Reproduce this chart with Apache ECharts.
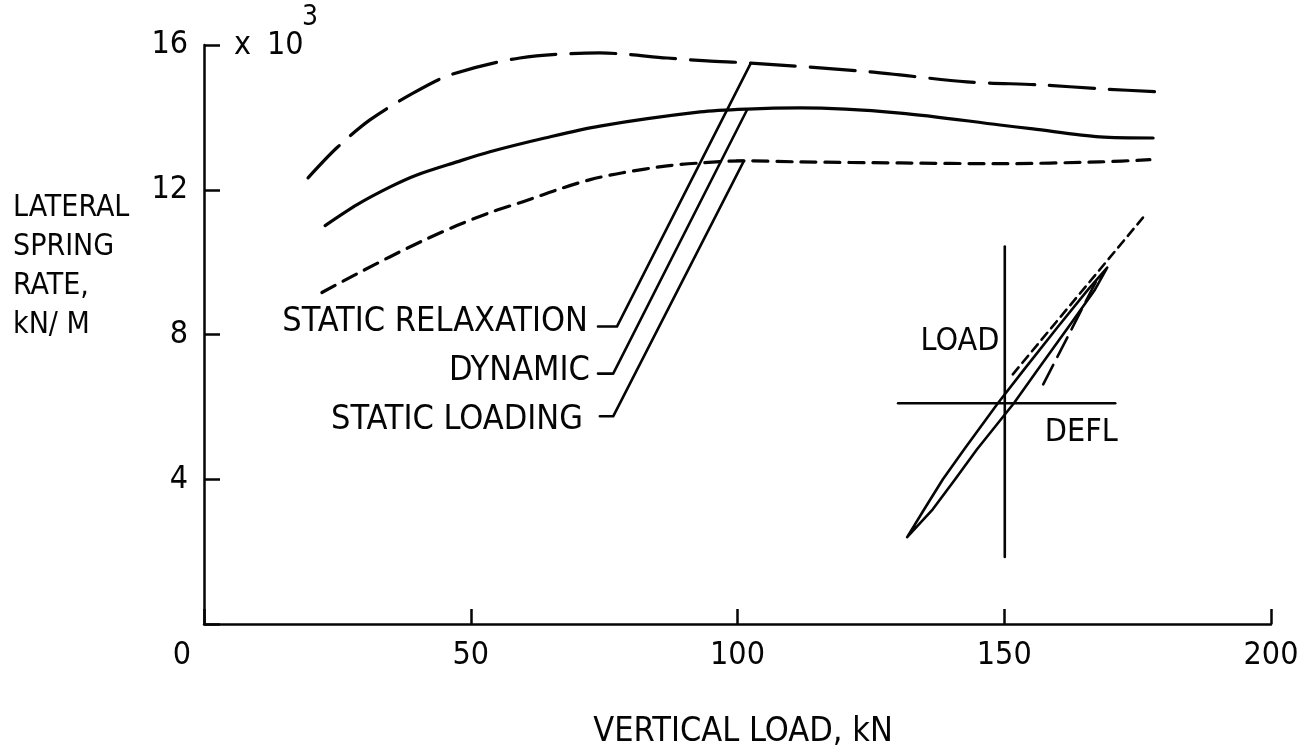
<!DOCTYPE html>
<html>
<head>
<meta charset="utf-8">
<script src="https://cdn.jsdelivr.net/npm/echarts@6/dist/echarts.min.js"></script>
<style>
html,body{margin:0;padding:0;background:#fff;}
#chart{width:1309px;height:754px;}
</style>
</head>
<body>
<div id="chart"></div>
<script>
// ---- data (x: vertical load kN, y: lateral spring rate x10^3 kN/m) ----
const staticRelaxation = [[19.5,12.33],[24.9,13.16],[31.1,13.93],[38.6,14.62],[46.1,15.17],[59.2,15.64],[74.2,15.78],[86.8,15.64],[94.3,15.56],[102.5,15.50],[124.8,15.26],[143.0,14.98],[156.7,14.90],[167.9,14.79],[179.8,14.70]];
const dynamic = [[22.7,11.01],[28.7,11.59],[34.9,12.08],[39.9,12.41],[47.4,12.77],[53.6,13.05],[63.9,13.43],[74.2,13.76],[93.0,14.15],[101.8,14.23],[111.7,14.26],[130.5,14.12],[149.2,13.79],[155.4,13.68],[167.9,13.46],[177.9,13.43]];
const staticLoading = [[22.1,9.16],[28.7,9.68],[34.9,10.15],[41.0,10.59],[47.4,11.01],[53.6,11.37],[59.8,11.67],[66.2,12.00],[72.4,12.28],[78.5,12.47],[86.8,12.66],[93.0,12.74],[101.2,12.80],[111.7,12.77],[130.5,12.74],[149.2,12.72],[167.9,12.77],[177.3,12.83]];

// leader lines from the labels to the curves
const leaderRelaxation = [[73.85,8.22],[77.4,8.22],[102.5,15.50]];
const leaderDynamic = [[73.85,6.92],[76.7,6.92],[101.8,14.21]];
const leaderLoading = [[74.2,5.74],[76.7,5.74],[101.2,12.80],[99.9,12.80]];

// curve labels
const curveLabels = ['STATIC RELAXATION','DYNAMIC','STATIC LOADING'];
const curveLabelAnchors = [[72.35,8.33],[72.7,6.98],[71.4,5.63]];

// inset sketch (load-deflection loop)
const insetVertical = [[150.1,10.43],[150.1,1.85]];
const insetHorizontal = [[130.1,6.10],[170.8,6.10]];
const insetLoop = [[131.8,2.40],[135.0,3.17],[138.5,4.00],[142.5,4.83],[148.8,6.10],[153.7,7.03],[160.1,8.22],[165.7,9.24],[169.3,9.85],[167.0,9.24],[162.1,8.22],[156.3,7.03],[151.8,6.10],[144.9,4.83],[140.8,4.00],[136.6,3.17],[131.8,2.40]];
const insetShortDash = [[151.6,6.90],[176.0,11.23]];
const insetLongDash = [[157.3,6.62],[167.4,9.52]];
const insetLabels = ['LOAD','DEFL'];
const insetLabelAnchors = [[134.3,7.81],[157.6,5.30]];

const xTicks = {min:0, max:200, interval:50};
const yTicks = {min:0, max:16, interval:4};

const NARROW = "'Liberation Sans Narrow','DejaVu Sans Condensed',sans-serif";
const COND = "'DejaVu Sans Condensed','DejaVu Sans',sans-serif";
const INK = '#050505';

const chart = echarts.init(document.getElementById('chart'), null, {renderer:'canvas'});

function lineSeries(data, type, width, smooth){
  return {
    type:'line', data:data, silent:true, symbol:'none', smooth:smooth,
    lineStyle:{color:INK, width:width, type:type, cap:'round', join:'round'},
    z:3
  };
}

const option = {
  backgroundColor:'#fff',
  animation:false,
  title:[
    {text:'LATERAL\nSPRING\nRATE,\nkN/ M', left:13, top:189, padding:0,
     textStyle:{fontFamily:COND, fontSize:30, fontWeight:'normal', color:INK, lineHeight:39}},
    {text:'{a|x}{b|10}', left:234, top:30, padding:0,
     textStyle:{fontWeight:'normal', rich:{
       a:{fontFamily:NARROW, fontSize:32, fontWeight:'normal', color:INK},
       b:{fontFamily:NARROW, fontSize:32, fontWeight:'normal', color:INK, padding:[0,0,0,16]}
     }}},
    {text:'3', left:302, top:4, padding:0,
     textStyle:{fontFamily:NARROW, fontSize:28, fontWeight:'normal', color:INK}}
  ],
  grid:{left:204, right:38, top:45, bottom:129, containLabel:false},
  xAxis:{
    type:'value', min:xTicks.min, max:xTicks.max, interval:xTicks.interval,
    name:'VERTICAL LOAD, kN', nameLocation:'middle', nameGap:91,
    nameTextStyle:{fontFamily:COND, fontSize:34, color:INK, padding:[0,0,0,11]},
    axisLine:{show:true, onZero:false, lineStyle:{color:INK, width:2.5}},
    axisTick:{show:true, inside:true, length:15, lineStyle:{color:INK, width:2.5}},
    splitLine:{show:false},
    axisLabel:{
      margin:16, fontFamily:NARROW, fontSize:32, color:INK,
      formatter:function(v){ return v===0 ? '{z|0}' : String(v); },
      rich:{z:{fontFamily:NARROW, fontSize:32, color:INK, padding:[0,44,0,0]}}
    }
  },
  yAxis:{
    type:'value', min:yTicks.min, max:yTicks.max, interval:yTicks.interval,
    axisLine:{show:true, onZero:false, lineStyle:{color:INK, width:2.5}},
    axisTick:{show:true, inside:true, length:16, lineStyle:{color:INK, width:2.5}},
    splitLine:{show:false},
    axisLabel:{
      margin:16, fontFamily:NARROW, fontSize:32, color:INK,
      formatter:function(v){ return v===0 ? '' : String(v); }
    }
  },
  series:[
    lineSeries(staticRelaxation, [45,15], 3.2, 0.3),
    lineSeries(dynamic, 'solid', 3.2, 0.3),
    lineSeries(staticLoading, [15,9], 3.2, 0.3),
    lineSeries(leaderRelaxation, 'solid', 2.6, false),
    lineSeries(leaderDynamic, 'solid', 2.6, false),
    lineSeries(leaderLoading, 'solid', 2.6, false),
    lineSeries(insetVertical, 'solid', 2.6, false),
    lineSeries(insetHorizontal, 'solid', 2.6, false),
    lineSeries(insetLoop, 'solid', 2.6, false),
    lineSeries(insetShortDash, [9,6], 2.6, false),
    lineSeries(insetLongDash, [22,9], 2.6, false),
    {
      type:'scatter', silent:true, symbolSize:0, z:4, itemStyle:{opacity:1},
      data:curveLabels.map(function(n,i){ return {name:n, value:curveLabelAnchors[i]}; }),
      label:{show:true, position:'left', distance:2, formatter:'{b}', opacity:1,
             fontFamily:COND, fontSize:34, color:INK}
    },
    {
      type:'scatter', silent:true, symbolSize:0, z:4, itemStyle:{opacity:1},
      data:insetLabels.map(function(n,i){ return {name:n, value:insetLabelAnchors[i]}; }),
      label:{show:true, position:'right', distance:0, formatter:'{b}', opacity:1,
             fontFamily:NARROW, fontSize:32, color:INK}
    }
  ]
};
chart.setOption(option);
</script>
</body>
</html>
